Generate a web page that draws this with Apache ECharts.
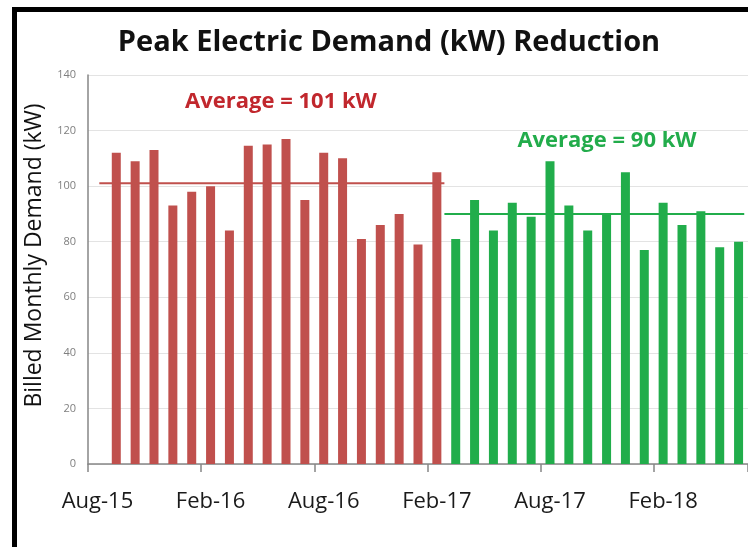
<!DOCTYPE html>
<html>
<head>
<meta charset="utf-8">
<script src="https://cdn.jsdelivr.net/npm/echarts@6/dist/echarts.min.js"></script>
<style>
  html, body { margin: 0; padding: 0; background: #fff; }
  #chart { width: 748px; height: 547px; }
</style>
</head>
<body>
<div id="chart"></div>
<script>
// monthly categories, Aug-15 .. Jun-18
const months = [
  'Aug-15', 'Sep-15', 'Oct-15', 'Nov-15', 'Dec-15', 'Jan-16',
  'Feb-16', 'Mar-16', 'Apr-16', 'May-16', 'Jun-16', 'Jul-16',
  'Aug-16', 'Sep-16', 'Oct-16', 'Nov-16', 'Dec-16', 'Jan-17',
  'Feb-17', 'Mar-17', 'Apr-17', 'May-17', 'Jun-17', 'Jul-17',
  'Aug-17', 'Sep-17', 'Oct-17', 'Nov-17', 'Dec-17', 'Jan-18',
  'Feb-18', 'Mar-18', 'Apr-18', 'May-18', 'Jun-18'
];

// before: Sep-15 .. Feb-17
const beforeValues = [112, 109, 113, 93, 98, 100, 84, 114.5, 115, 117, 95, 112, 110, 81, 86, 90, 79, 105];
// after: Mar-17 .. Jun-18
const afterValues = [81, 95, 84, 94, 89, 109, 93, 84, 90, 105, 77, 94, 86, 91, 78, 80];

const beforeAvg = 101;
const afterAvg = 90;
// average line extents, in month units from the start of Aug-15
const beforeSpan = [0.6, 18.9];
const afterSpan = [18.9, 34.8];

const yTicks = [0, 20, 40, 60, 80, 100, 120, 140];

const red = '#C0504D';
const green = '#21AD4B';
const font = '"Open Sans", sans-serif';

const beforeData = months.map((m, i) => (i >= 1 && i <= 18 ? beforeValues[i - 1] : null));
const afterData = months.map((m, i) => (i >= 19 ? afterValues[i - 19] : null));

const chart = echarts.init(document.getElementById('chart'));

chart.setOption({
  animation: false,
  textStyle: { fontFamily: font },
  title: {
    text: 'Peak Electric Demand (kW) Reduction',
    left: 384,
    top: 23,
    textAlign: 'center',
    textStyle: { fontFamily: font, fontSize: 29, fontWeight: 'bold', color: '#111' }
  },
  grid: {
    left: 88,
    top: 75,
    width: 662,
    bottom: 83
  },
  xAxis: [{
    type: 'category',
    data: months,
    boundaryGap: true,
    axisLine: { lineStyle: { color: '#868686', width: 1.5 } },
    axisTick: { show: true, interval: 5, length: 8, lineStyle: { color: '#868686', width: 1.5 } },
    axisLabel: { interval: 5, color: '#1a1a1a', fontSize: 22, margin: 27, fontFamily: font },
    splitLine: { show: false }
  }, {
    type: 'value',
    min: 0,
    max: 35,
    show: false
  }],
  yAxis: {
    type: 'value',
    min: 0,
    max: 140,
    interval: 20,
    name: 'Billed Monthly Demand (kW)',
    nameLocation: 'middle',
    nameGap: 40,
    nameTextStyle: { fontSize: 23, color: '#111', fontFamily: font, padding: [0, 0, 0, 28] },
    axisLine: { show: true, lineStyle: { color: '#868686', width: 1.5 } },
    axisTick: { show: false },
    axisLabel: {
      color: '#7f7f7f',
      fontSize: 11,
      margin: 12,
      formatter: v => (yTicks.includes(v) ? String(v) : '')
    },
    splitLine: { lineStyle: { color: '#e3e3e3', width: 1 } }
  },
  series: [{
    name: 'Before',
    type: 'bar',
    data: beforeData,
    barWidth: 9,
    barGap: '-100%',
    itemStyle: { color: red }
  }, {
    name: 'After',
    type: 'bar',
    data: afterData,
    barWidth: 9,
    barGap: '-100%',
    itemStyle: { color: green }
  }, {
    name: 'Before average',
    type: 'line',
    xAxisIndex: 1,
    data: beforeSpan.map(x => [x, beforeAvg]),
    symbol: 'none',
    lineStyle: { color: red, width: 2 },
    z: 5
  }, {
    name: 'After average',
    type: 'line',
    xAxisIndex: 1,
    data: afterSpan.map(x => [x, afterAvg]),
    symbol: 'none',
    lineStyle: { color: green, width: 2 },
    z: 5
  }],
  graphic: [{
    type: 'rect',
    shape: { x: 14.5, y: 9.5, width: 900, height: 700 },
    style: { fill: 'none', stroke: '#000', lineWidth: 5 },
    silent: true
  }, {
    type: 'text',
    x: 281,
    y: 102,
    style: {
      text: 'Average = ' + beforeAvg + ' kW',
      fill: '#C1272D',
      font: 'bold 22px ' + font,
      textAlign: 'center',
      textVerticalAlign: 'middle'
    }
  }, {
    type: 'text',
    x: 607,
    y: 141,
    style: {
      text: 'Average = ' + afterAvg + ' kW',
      fill: '#22AC4B',
      font: 'bold 22px ' + font,
      textAlign: 'center',
      textVerticalAlign: 'middle'
    }
  }]
});
</script>
</body>
</html>
